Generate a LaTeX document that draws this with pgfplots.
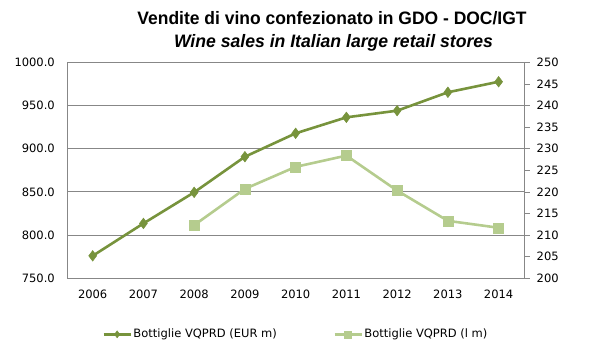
\documentclass[border=0pt]{standalone}
\usepackage{pgfplots}
\pgfplotsset{compat=1.18}
\usepackage{fontspec}
\setmainfont{DejaVu Sans}
\newfontfamily\titlefont{Liberation Sans}
\definecolor{darkg}{HTML}{77933C}
\definecolor{lightg}{HTML}{B5CC8E}
\definecolor{gridc}{HTML}{878787}
\pgfplotsset{legend image code/.code={\draw[#1, mark size=3.5bp, mark repeat=2, mark phase=2] plot coordinates {(0bp,0bp) (13.5bp,0bp) (27bp,0bp)};}}
\begin{document}
\begin{tikzpicture}
\useasboundingbox (0,0) rectangle (597bp,356bp);
\node[anchor=base,inner sep=0pt] at (332bp,331bp) {\resizebox{389bp}{\height}{\titlefont\fontsize{18bp}{20bp}\selectfont\bfseries Vendite di vino confezionato in GDO - DOC/IGT}};
\node[anchor=base,inner sep=0pt] at (333.5bp,308.3bp) {\resizebox{319bp}{\height}{\titlefont\fontsize{18bp}{20bp}\selectfont\bfseries\itshape Wine sales in Italian large retail stores}};
\begin{axis}[
 at={(67.3bp,77.7bp)}, anchor=south west, scale only axis,
 width=456.7bp, height=216bp,
 xmin=-0.5, xmax=8.5, ymin=750, ymax=1000,
 xtick={0,1,2,3,4,5,6,7,8},
 xticklabels={2006,2007,2008,2009,2010,2011,2012,2013,2014},
 ytick={750,800,850,900,950,1000},
 axis x line*=bottom, axis y line*=left,
 axis line style={draw=gridc, line width=0.8bp},
 ymajorgrids, grid style={draw=gridc, line width=0.8bp},
 major tick length=0pt,
 tick style={draw=none},
 ticklabel style={font=\fontsize{11.5bp}{13bp}\selectfont},
 /pgf/number format/assume math mode=true,
 yticklabel style={xshift=-9bp, /pgf/number format/fixed, /pgf/number format/fixed zerofill, /pgf/number format/precision=1, /pgf/number format/1000 sep={}},
 xticklabel style={yshift=-8bp},
 legend columns=2,
 legend cell align=left,
 legend style={at={(0.5,-0.2593)}, anchor=center, draw=none, fill=none,
   font=\fontsize{11.5bp}{13bp}\selectfont,
   /tikz/every even column/.append style={column sep=55bp},
   nodes={inner sep=1.5bp}},
 clip=false,
]
\addplot[darkg, line width=2.6bp, mark=diamond*, mark size=5.3bp,
  mark options={solid, fill=darkg, draw=darkg, line width=0.5bp}]
 coordinates {(0,776) (1,813.5) (2,849.5) (3,890.7) (4,917.8) (5,936.3) (6,944) (7,965.3) (8,977.5)};
\addlegendentry{Bottiglie VQPRD (EUR m)}
\addlegendimage{lightg, line width=2.6bp, mark=square*, mark size=3.5bp,
  mark options={solid, fill=lightg, draw=lightg, line width=0.5bp}}
\addlegendentry{Bottiglie VQPRD (l m)}
\end{axis}
\begin{axis}[
 at={(67.3bp,77.7bp)}, anchor=south west, scale only axis,
 width=456.7bp, height=216bp,
 xmin=-0.5, xmax=8.5, ymin=200, ymax=250,
 ytick={200,205,210,215,220,225,230,235,240,245,250},
 axis x line=none, axis y line*=right,
 axis line style={draw=gridc, line width=0.8bp},
 tick align=outside, major tick length=5.7bp,
 tick style={draw=gridc, line width=0.8bp},
 ticklabel style={font=\fontsize{11.5bp}{13bp}\selectfont},
 /pgf/number format/assume math mode=true,
 yticklabel style={xshift=3.5bp},
 clip=false,
]
\addplot[lightg, line width=2.6bp, mark=square*, mark size=5bp,
  mark options={solid, fill=lightg, draw=lightg, line width=0.5bp}]
 coordinates {(2,212.3) (3,220.7) (4,225.8) (5,228.4) (6,220.3) (7,213.3) (8,211.7)};
\end{axis}
\end{tikzpicture}
\end{document}
